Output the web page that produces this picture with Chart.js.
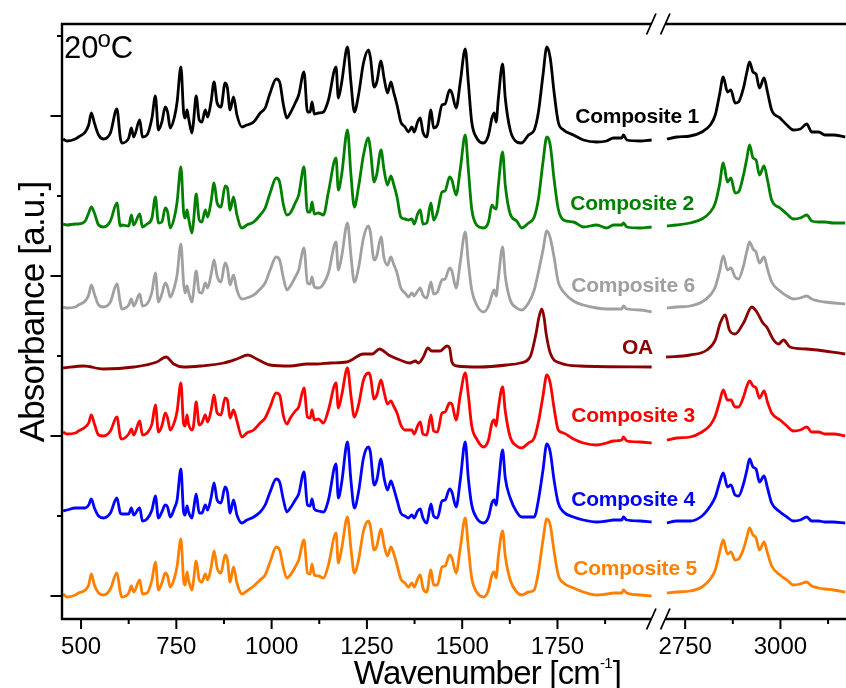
<!DOCTYPE html>
<html>
<head>
<meta charset="utf-8">
<script src="https://cdn.jsdelivr.net/npm/chart.js@4.4.0/dist/chart.umd.min.js"></script>
<style>
  html, body { margin: 0; padding: 0; background: #fff; }
  #ftirChart { display: block; }
</style>
</head>
<body>
<canvas id="ftirChart" width="846" height="688"></canvas>
<script>
// FTIR spectra at 20 °C, stacked with vertical offsets (a.u.)
// Wavenumber grid for the fingerprint region (cm-1), shared by the composites
const wnLeft = [
  453, 463, 485, 493, 511, 520, 527, 535, 546, 559,
  577, 594, 603, 607, 625, 632, 638, 654, 661, 673,
  686, 695, 703, 712, 721, 727, 734, 745, 752, 762,
  769, 773, 778, 782, 791, 795, 802, 810, 817, 826,
  832, 841, 849, 857, 867, 878, 884, 891, 900, 909,
  922, 935, 953, 970, 983, 996, 1012, 1021, 1031, 1040,
  1049, 1062, 1071, 1085, 1094, 1101, 1106, 1112, 1123, 1136,
  1149, 1169, 1175, 1184, 1199, 1208, 1217, 1228, 1241, 1254,
  1259, 1269, 1276, 1287, 1295, 1304, 1313, 1320, 1329, 1339,
  1350, 1359, 1368, 1374, 1383, 1390, 1397, 1407, 1418, 1425,
  1435, 1447, 1455, 1467, 1473, 1484, 1495, 1508, 1516, 1525,
  1538, 1556, 1569, 1578, 1584, 1589, 1595, 1606, 1613, 1626,
  1643, 1656, 1674, 1689, 1700, 1712, 1722, 1731, 1741, 1752,
  1766, 1792, 1818, 1853, 1879, 1897, 1919, 1923, 1932, 1967, 1997
];
// C-H stretching region
const wnRight = [
  2702, 2728, 2763, 2794, 2816, 2829, 2840, 2850, 2861, 2870,
  2881, 2890, 2903, 2912, 2919, 2928, 2936, 2945, 2957, 2966,
  2977, 2999, 3017, 3034, 3052, 3069, 3082, 3100, 3117, 3139, 3170
];

const comp1Left = [
  4.57, 4.55, 4.57, 4.59, 4.64, 4.71, 4.83, 4.73, 4.61, 4.57,
  4.63, 4.87, 4.58, 4.53, 4.58, 4.68, 4.59, 4.76, 4.59, 4.61,
  4.78, 5.00, 4.66, 4.74, 4.89, 4.84, 4.68, 4.79, 4.94, 5.29,
  4.84, 4.78, 4.86, 4.78, 4.63, 4.74, 5.00, 4.76, 4.74, 4.86,
  4.79, 4.94, 5.14, 4.93, 4.89, 5.13, 5.08, 4.86, 4.99, 4.81,
  4.69, 4.71, 4.74, 4.83, 4.88, 5.03, 5.17, 5.14, 4.91, 4.78,
  4.83, 4.93, 5.01, 5.24, 4.84, 4.84, 4.94, 4.82, 4.83, 4.84,
  4.96, 5.29, 4.98, 5.14, 5.49, 5.14, 4.84, 5.01, 5.33, 5.46,
  5.39, 5.09, 5.14, 5.35, 5.18, 5.03, 5.14, 5.04, 4.91, 4.74,
  4.69, 4.64, 4.69, 4.64, 4.74, 4.78, 4.64, 4.59, 4.86, 4.68,
  4.71, 4.91, 4.92, 5.06, 5.03, 4.88, 5.14, 5.47, 5.14, 4.74,
  4.58, 4.53, 4.61, 4.78, 4.83, 4.74, 4.98, 5.32, 4.98, 4.66,
  4.54, 4.53, 4.61, 4.66, 4.84, 5.21, 5.49, 5.38, 5.04, 4.74,
  4.66, 4.61, 4.56, 4.54, 4.55, 4.58, 4.58, 4.61, 4.56, 4.55, 4.56
];
const comp1Right = [
  4.57, 4.59, 4.60, 4.64, 4.71, 4.81, 5.01, 5.19, 5.04, 5.06,
  4.93, 4.94, 5.08, 5.24, 5.34, 5.24, 5.22, 5.08, 5.18, 5.04,
  4.86, 4.78, 4.71, 4.66, 4.67, 4.72, 4.64, 4.64, 4.61, 4.61, 4.59
];

const comp2Left = [
  3.72, 3.71, 3.72, 3.72, 3.75, 3.83, 3.89, 3.83, 3.71, 3.69,
  3.75, 3.93, 3.70, 3.71, 3.70, 3.81, 3.71, 3.82, 3.69, 3.72,
  3.78, 3.99, 3.73, 3.74, 3.88, 3.84, 3.68, 3.79, 3.94, 4.29,
  3.84, 3.78, 3.86, 3.78, 3.63, 3.74, 4.02, 3.76, 3.74, 3.86,
  3.79, 3.94, 4.13, 3.93, 3.89, 4.10, 4.08, 3.86, 3.99, 3.81,
  3.68, 3.71, 3.74, 3.81, 3.88, 4.03, 4.18, 4.14, 3.91, 3.81,
  3.83, 3.93, 4.01, 4.29, 3.84, 3.84, 3.94, 3.82, 3.83, 3.81,
  4.04, 4.38, 4.06, 4.22, 4.66, 4.22, 3.89, 4.09, 4.41, 4.58,
  4.47, 4.14, 4.22, 4.46, 4.26, 4.11, 4.20, 4.12, 3.99, 3.79,
  3.77, 3.76, 3.77, 3.72, 3.82, 3.86, 3.72, 3.73, 3.93, 3.76,
  3.84, 4.04, 4.05, 4.19, 4.16, 4.01, 4.27, 4.61, 4.27, 3.87,
  3.71, 3.68, 3.74, 3.91, 3.88, 3.87, 4.11, 4.44, 4.11, 3.82,
  3.75, 3.68, 3.73, 3.79, 3.97, 4.34, 4.59, 4.51, 4.17, 3.87,
  3.76, 3.74, 3.69, 3.71, 3.68, 3.71, 3.71, 3.73, 3.69, 3.68, 3.69
];
const comp2Right = [
  3.70, 3.71, 3.73, 3.77, 3.84, 3.93, 4.11, 4.33, 4.14, 4.18,
  4.03, 4.04, 4.21, 4.38, 4.51, 4.38, 4.36, 4.21, 4.30, 4.16,
  3.96, 3.88, 3.82, 3.77, 3.78, 3.81, 3.75, 3.74, 3.74, 3.73, 3.73
];

const comp6Left = [
  2.89, 2.88, 2.89, 2.91, 2.95, 3.01, 3.11, 3.02, 2.91, 2.89,
  2.94, 3.12, 2.93, 2.87, 2.91, 2.97, 2.90, 3.02, 2.90, 2.92,
  3.04, 3.23, 2.94, 3.02, 3.13, 3.09, 2.99, 3.09, 3.21, 3.52,
  3.13, 3.03, 3.10, 3.04, 2.94, 3.04, 3.25, 3.04, 3.03, 3.13,
  3.08, 3.21, 3.36, 3.20, 3.14, 3.33, 3.28, 3.11, 3.21, 3.06,
  2.97, 2.98, 3.01, 3.07, 3.13, 3.26, 3.39, 3.36, 3.18, 3.06,
  3.10, 3.19, 3.26, 3.48, 3.13, 3.12, 3.19, 3.09, 3.08, 3.12,
  3.23, 3.54, 3.26, 3.40, 3.73, 3.41, 3.14, 3.28, 3.58, 3.70,
  3.64, 3.36, 3.40, 3.59, 3.38, 3.31, 3.39, 3.32, 3.23, 3.08,
  3.03, 2.99, 3.03, 3.00, 3.05, 3.08, 3.01, 2.98, 3.14, 3.02,
  3.04, 3.16, 3.17, 3.28, 3.25, 3.08, 3.34, 3.64, 3.34, 3.06,
  2.91, 2.84, 2.90, 3.01, 3.06, 3.00, 3.18, 3.49, 3.20, 2.96,
  2.88, 2.86, 2.93, 3.06, 3.24, 3.46, 3.65, 3.58, 3.39, 3.14,
  3.04, 2.95, 2.91, 2.88, 2.87, 2.87, 2.87, 2.90, 2.87, 2.86, 2.84
];
const comp6Right = [
  2.88, 2.89, 2.90, 2.94, 3.01, 3.09, 3.24, 3.40, 3.26, 3.28,
  3.19, 3.17, 3.30, 3.45, 3.54, 3.47, 3.44, 3.33, 3.39, 3.27,
  3.14, 3.05, 3.00, 2.97, 2.98, 3.00, 2.97, 2.95, 2.94, 2.93, 2.92
];

// Oleic acid has its own, sparser band list
const oaWnLeft = [
  453, 507, 559, 638, 699, 723, 743, 769, 813, 874,
  909, 938, 961, 996, 1049, 1093, 1119, 1154, 1197, 1241,
  1264, 1283, 1307, 1337, 1363, 1377, 1385, 1398, 1410, 1420,
  1442, 1460, 1467, 1473, 1486, 1547, 1617, 1652, 1678, 1694,
  1701, 1709, 1715, 1720, 1731, 1757, 1809, 1997
];
const oaLeft = [
  2.28, 2.30, 2.27, 2.29, 2.34, 2.39, 2.32, 2.29, 2.30, 2.33,
  2.37, 2.41, 2.37, 2.31, 2.30, 2.32, 2.32, 2.33, 2.34, 2.42,
  2.42, 2.47, 2.41, 2.36, 2.33, 2.35, 2.33, 2.39, 2.48, 2.45,
  2.45, 2.50, 2.48, 2.34, 2.30, 2.29, 2.31, 2.33, 2.39, 2.63,
  2.78, 2.87, 2.78, 2.63, 2.43, 2.33, 2.30, 2.29
];
const oaWnRight = [
  2700, 2763, 2807, 2829, 2842, 2855, 2866, 2881, 2903, 2925,
  2938, 2954, 2964, 2982, 2995, 3008, 3025, 3069, 3170
];
const oaRight = [
  2.39, 2.41, 2.46, 2.56, 2.73, 2.81, 2.66, 2.62, 2.73, 2.89,
  2.84, 2.73, 2.69, 2.56, 2.52, 2.56, 2.49, 2.47, 2.42
];

const comp3Left = [
  1.64, 1.62, 1.63, 1.65, 1.69, 1.73, 1.81, 1.72, 1.61, 1.60,
  1.65, 1.79, 1.59, 1.57, 1.62, 1.67, 1.61, 1.75, 1.61, 1.63,
  1.72, 1.91, 1.64, 1.70, 1.83, 1.78, 1.66, 1.74, 1.85, 2.13,
  1.72, 1.70, 1.81, 1.72, 1.66, 1.70, 1.94, 1.71, 1.73, 1.81,
  1.74, 1.85, 2.01, 1.83, 1.81, 1.98, 1.96, 1.78, 1.86, 1.75,
  1.59, 1.63, 1.66, 1.73, 1.78, 1.89, 2.03, 2.01, 1.80, 1.72,
  1.78, 1.85, 1.89, 2.08, 1.79, 1.78, 1.86, 1.76, 1.77, 1.73,
  1.86, 2.13, 1.88, 2.01, 2.28, 2.01, 1.79, 1.91, 2.16, 2.23,
  2.20, 1.97, 2.01, 2.16, 2.04, 1.92, 1.95, 1.90, 1.83, 1.71,
  1.66, 1.66, 1.66, 1.62, 1.70, 1.74, 1.62, 1.61, 1.81, 1.65,
  1.64, 1.83, 1.84, 1.93, 1.92, 1.76, 2.01, 2.23, 2.01, 1.70,
  1.57, 1.49, 1.56, 1.73, 1.76, 1.70, 1.88, 2.09, 1.85, 1.59,
  1.50, 1.48, 1.53, 1.58, 1.74, 2.00, 2.21, 2.13, 1.88, 1.66,
  1.63, 1.57, 1.53, 1.51, 1.53, 1.55, 1.56, 1.59, 1.55, 1.54, 1.53
];
const comp3Right = [
  1.56, 1.58, 1.59, 1.64, 1.71, 1.80, 1.94, 2.06, 1.96, 1.96,
  1.89, 1.89, 1.99, 2.10, 2.15, 2.10, 2.08, 1.98, 2.05, 1.94,
  1.83, 1.76, 1.70, 1.65, 1.66, 1.69, 1.64, 1.64, 1.62, 1.62, 1.60
];

const comp4Left = [
  0.85, 0.86, 0.88, 0.88, 0.88, 0.91, 0.97, 0.88, 0.80, 0.78,
  0.83, 0.98, 0.83, 0.82, 0.82, 0.88, 0.81, 0.88, 0.75, 0.77,
  0.86, 1.00, 0.78, 0.84, 0.91, 0.89, 0.79, 0.88, 0.96, 1.27,
  0.84, 0.81, 0.90, 0.84, 0.78, 0.86, 1.02, 0.83, 0.83, 0.91,
  0.86, 0.98, 1.13, 0.96, 0.93, 1.09, 1.04, 0.83, 0.96, 0.81,
  0.73, 0.76, 0.79, 0.84, 0.91, 1.04, 1.17, 1.14, 0.96, 0.84,
  0.88, 0.96, 1.02, 1.24, 0.91, 0.90, 0.97, 0.87, 0.85, 0.84,
  0.96, 1.32, 0.98, 1.14, 1.54, 1.16, 0.88, 1.04, 1.38, 1.49,
  1.44, 1.11, 1.16, 1.37, 1.18, 1.06, 1.15, 1.08, 0.96, 0.83,
  0.80, 0.78, 0.81, 0.78, 0.85, 0.87, 0.78, 0.73, 0.92, 0.80,
  0.78, 0.95, 0.96, 1.07, 1.04, 0.89, 1.16, 1.54, 1.18, 0.91,
  0.78, 0.73, 0.79, 0.93, 0.96, 0.91, 1.11, 1.46, 1.18, 0.98,
  0.84, 0.79, 0.79, 0.79, 0.96, 1.26, 1.52, 1.44, 1.16, 0.93,
  0.84, 0.79, 0.76, 0.74, 0.75, 0.76, 0.76, 0.79, 0.76, 0.75, 0.74
];
const comp4Right = [
  0.73, 0.75, 0.75, 0.80, 0.90, 0.99, 1.13, 1.23, 1.09, 1.11,
  1.01, 1.00, 1.12, 1.26, 1.37, 1.29, 1.27, 1.14, 1.20, 1.08,
  0.93, 0.84, 0.79, 0.75, 0.76, 0.79, 0.75, 0.75, 0.74, 0.74, 0.73
];

const comp5Left = [
  0.02, -0.01, 0.01, 0.03, 0.06, 0.11, 0.22, 0.11, 0.03, 0.01,
  0.07, 0.23, 0.04, -0.01, 0.03, 0.10, 0.04, 0.16, 0.02, 0.03,
  0.16, 0.34, 0.06, 0.13, 0.23, 0.20, 0.09, 0.18, 0.30, 0.57,
  0.16, 0.11, 0.24, 0.16, 0.06, 0.15, 0.35, 0.16, 0.14, 0.22,
  0.16, 0.28, 0.45, 0.28, 0.23, 0.41, 0.36, 0.14, 0.29, 0.13,
  0.02, 0.05, 0.10, 0.16, 0.21, 0.34, 0.49, 0.46, 0.28, 0.18,
  0.21, 0.29, 0.36, 0.56, 0.23, 0.22, 0.32, 0.21, 0.20, 0.18,
  0.31, 0.63, 0.33, 0.48, 0.79, 0.48, 0.23, 0.36, 0.65, 0.75,
  0.70, 0.46, 0.50, 0.67, 0.51, 0.40, 0.49, 0.43, 0.31, 0.17,
  0.13, 0.09, 0.13, 0.09, 0.17, 0.21, 0.08, 0.04, 0.26, 0.11,
  0.11, 0.29, 0.30, 0.41, 0.38, 0.23, 0.48, 0.78, 0.49, 0.18,
  0.04, -0.01, 0.06, 0.21, 0.24, 0.18, 0.40, 0.65, 0.40, 0.16,
  0.04, 0.01, 0.04, 0.06, 0.24, 0.56, 0.77, 0.71, 0.45, 0.21,
  0.13, 0.08, 0.04, 0.01, 0.02, 0.03, 0.03, 0.06, 0.03, 0.01, 0.00
];
const comp5Right = [
  0.03, 0.04, 0.05, 0.09, 0.17, 0.26, 0.43, 0.56, 0.42, 0.44,
  0.36, 0.37, 0.47, 0.59, 0.68, 0.61, 0.58, 0.46, 0.54, 0.43,
  0.30, 0.21, 0.16, 0.11, 0.12, 0.14, 0.10, 0.08, 0.07, 0.06, 0.04
];

// Axis ticks
const xMajorLeft = [500, 750, 1000, 1250, 1500, 1750];
const xMinorLeft = [625, 875, 1125, 1375, 1625, 1875];
const xMajorRight = [2750, 3000];
const xMinorRight = [2875, 3125];
const yMajor = [0, 1.6, 3.2, 4.8];
const yMinor = [0.8, 2.4, 4.0, 5.6];

const FONT = '"Liberation Sans", Arial, Helvetica, sans-serif';

const series = [
  { name: 'Composite 5', color: '#ff8000', left: comp5Left, right: comp5Right },
  { name: 'Composite 4', color: '#0000ff', left: comp4Left, right: comp4Right },
  { name: 'Composite 3', color: '#ff0000', left: comp3Left, right: comp3Right },
  { name: 'OA', color: '#8b0000', left: oaLeft, right: oaRight, wnL: oaWnLeft, wnR: oaWnRight },
  { name: 'Composite 6', color: '#a0a0a0', left: comp6Left, right: comp6Right },
  { name: 'Composite 2', color: '#008000', left: comp2Left, right: comp2Right },
  { name: 'Composite 1', color: '#000000', left: comp1Left, right: comp1Right }
];

// where each curve name sits (right edge, baseline) in the gap between panels
const nameSpots = {
  'Composite 1': [699, 123],
  'Composite 2': [694, 210],
  'Composite 6': [695, 292],
  'OA': [653, 354],
  'Composite 3': [695, 422],
  'Composite 4': [695, 506],
  'Composite 5': [697, 575]
};

function spectrum(s, wn, values, axis) {
  return {
    label: s.name,
    data: wn.map((x, i) => ({ x: x, y: values[i] })),
    xAxisID: axis,
    yAxisID: 'y',
    borderColor: s.color,
    backgroundColor: s.color,
    borderWidth: 2.8,
    pointRadius: 0,
    fill: false,
    cubicInterpolationMode: 'monotone'
  };
}

const datasets = [];
series.forEach(s => {
  datasets.push(spectrum(s, s.wnL || wnLeft, s.left, 'xL'));
  datasets.push(spectrum(s, s.wnR || wnRight, s.right, 'xR'));
});

function xScale(min, max, weight, labels) {
  return {
    type: 'linear',
    position: 'bottom',
    stack: 'wavenumber',
    stackWeight: weight,
    min: min,
    max: max,
    grid: { display: false, drawTicks: false },
    border: { display: false },
    ticks: {
      autoSkip: false,
      maxRotation: 0,
      padding: 14,
      color: '#000',
      font: { family: FONT, size: 24 },
      callback: v => String(v)
    },
    afterBuildTicks: scale => { scale.ticks = labels.map(v => ({ value: v })); },
    afterFit: scale => {
      scale.height = 69;
      scale.paddingLeft = 0;
      scale.paddingRight = 0;
    }
  };
}

// axis frame with the // break, tick marks, titles and curve names
const framePlugin = {
  id: 'frame',
  afterDraw(chart) {
    const { ctx, chartArea } = chart;
    const xL = chart.scales.xL, xR = chart.scales.xR, y = chart.scales.y;
    const left = chartArea.left, right = chartArea.right;
    const top = chartArea.top, bottom = chartArea.bottom;
    const cutA = xL.right - 1.5, cutB = xL.right + 12.5;

    ctx.save();
    ctx.strokeStyle = '#000';
    ctx.lineWidth = 2.4;
    ctx.beginPath();
    ctx.moveTo(left, top - 1.2); ctx.lineTo(left, bottom + 1.2);
    ctx.moveTo(left, top); ctx.lineTo(cutA, top);
    ctx.moveTo(cutB, top); ctx.lineTo(right, top);
    ctx.moveTo(left, bottom); ctx.lineTo(cutA, bottom);
    ctx.moveTo(cutB, bottom); ctx.lineTo(right, bottom);
    ctx.stroke();

    ctx.lineWidth = 1.8;
    ctx.beginPath();
    [top, bottom].forEach(yy => {
      [cutA, cutB].forEach(xx => {
        ctx.moveTo(xx - 4.7, yy + 10.5);
        ctx.lineTo(xx + 4.7, yy - 10.5);
      });
    });
    ctx.stroke();

    ctx.lineWidth = 2;
    ctx.beginPath();
    const xTick = (scale, v, len) => {
      const px = scale.getPixelForValue(v);
      ctx.moveTo(px, bottom); ctx.lineTo(px, bottom + len);
    };
    xMajorLeft.forEach(v => xTick(xL, v, 10));
    xMinorLeft.forEach(v => xTick(xL, v, 5));
    xMajorRight.forEach(v => xTick(xR, v, 10));
    xMinorRight.forEach(v => xTick(xR, v, 5));
    const yTick = (v, len) => {
      const py = y.getPixelForValue(v);
      ctx.moveTo(left, py); ctx.lineTo(left - len, py);
    };
    yMajor.forEach(v => yTick(v, 11.5));
    yMinor.forEach(v => yTick(v, 5));
    ctx.stroke();

    ctx.fillStyle = '#000';
    ctx.textBaseline = 'alphabetic';
    ctx.letterSpacing = '-0.8px';

    // x title with superscript
    const mainTxt = 'Wavenumber [cm', supTxt = '-1', endTxt = ']';
    ctx.font = '33px ' + FONT;
    const w1 = ctx.measureText(mainTxt).width;
    const w3 = ctx.measureText(endTxt).width;
    ctx.font = '15px ' + FONT;
    const w2 = ctx.measureText(supTxt).width;
    let tx = 487 - (w1 + w2 + w3) / 2;
    const tb = 684;
    ctx.textAlign = 'left';
    ctx.font = '33px ' + FONT;
    ctx.fillText(mainTxt, tx, tb);
    tx += w1;
    ctx.font = '15px ' + FONT;
    ctx.fillText(supTxt, tx, tb - 16);
    tx += w2 + 1;
    ctx.font = '33px ' + FONT;
    ctx.fillText(endTxt, tx, tb);

    // y title
    ctx.save();
    ctx.translate(44, 312);
    ctx.rotate(-Math.PI / 2);
    ctx.textAlign = 'center';
    ctx.font = '35px ' + FONT;
    ctx.fillText('Absorbance [a.u.]', 0, 0);
    ctx.restore();

    // temperature tag
    ctx.textAlign = 'left';
    ctx.letterSpacing = '0px';
    ctx.font = '31px ' + FONT;
    ctx.fillText('20', left + 2, top + 34);
    const w20 = ctx.measureText('20').width;
    ctx.font = '24px ' + FONT;
    ctx.fillText('o', left + 1 + w20, top + 22.5);
    const wo = ctx.measureText('o').width;
    ctx.font = '31px ' + FONT;
    ctx.fillText('C', left + 1 + w20 + wo, top + 34);

    // curve names
    ctx.letterSpacing = '-0.2px';
    ctx.textAlign = 'right';
    ctx.font = 'bold 21px ' + FONT;
    series.forEach(s => {
      const spot = nameSpots[s.name];
      ctx.fillStyle = s.color;
      ctx.fillText(s.name, spot[0], spot[1]);
    });
    ctx.restore();
  }
};

new Chart(document.getElementById('ftirChart'), {
  type: 'line',
  data: { datasets: datasets },
  options: {
    responsive: false,
    animation: false,
    devicePixelRatio: 1,
    layout: { padding: { left: 62, top: 24, right: 0, bottom: 0 } },
    plugins: {
      legend: { display: false },
      tooltip: { enabled: false },
      title: { display: false }
    },
    scales: {
      xL: xScale(450, 2000, 1550, xMajorLeft),
      xR: xScale(2665, 3172, 507, xMajorRight),
      y: { type: 'linear', display: false, min: -0.23, max: 5.72 }
    }
  },
  plugins: [framePlugin]
});
</script>
</body>
</html>
